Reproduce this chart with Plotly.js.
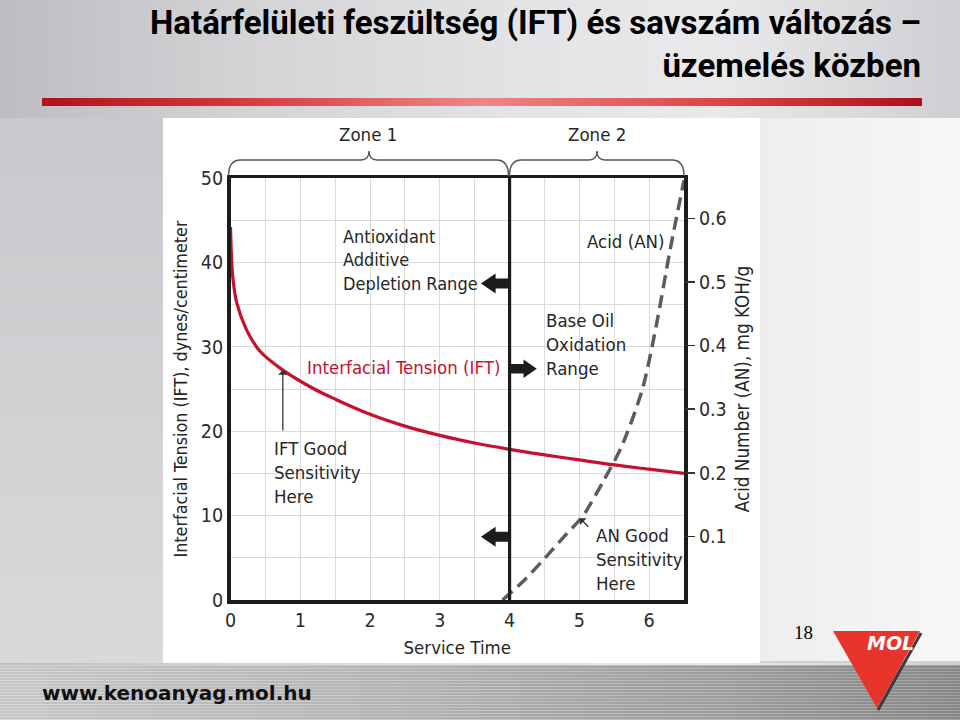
<!DOCTYPE html>
<html><head><meta charset="utf-8">
<script src="https://cdn.plot.ly/plotly-3.0.1.min.js"></script>
<style>
html,body{margin:0;padding:0;}
#wrap{position:relative;width:960px;height:720px;overflow:hidden;
 background:linear-gradient(to right,#bdbdc1 0%,#d3d3d6 25%,#e4e4e6 55%,#e9e9eb 75%,#cfcfd3 100%);}
#lpanel{position:absolute;left:0;top:118px;width:163px;height:545px;background:linear-gradient(to bottom,#c9c9cd,#d9d9db);}
#rpanel{position:absolute;left:760px;top:118px;width:200px;height:545px;background:linear-gradient(to right,#eeeeef,#f7f7f7);}
#panel{position:absolute;left:163px;top:118px;width:597px;height:545px;background:#fff;}
#rbar{position:absolute;left:42px;top:98px;width:880px;height:8px;background:linear-gradient(to right,#b3121a 0%,#d23236 20%,#ec8787 50%,#dc4a4a 75%,#b01018 100%);}
#fline{position:absolute;left:760px;top:661px;width:200px;height:2px;background:#d0d0d0;}
#foot{position:absolute;left:0;top:665px;width:960px;height:55px;
 background:repeating-linear-gradient(to bottom,rgba(255,255,255,0.18) 0px,rgba(255,255,255,0.18) 1px,rgba(0,0,0,0.05) 1px,rgba(0,0,0,0.05) 3px),linear-gradient(to right,#d0d0d0,#bdbdbd 40%,#a5a5a5 75%,#8e8e8e);}
#chart{position:absolute;left:0;top:0;width:960px;height:720px;}
</style></head>
<body><div id="wrap"><div id="lpanel"></div><div id="rpanel"></div><div id="panel"></div><div id="rbar"></div><div id="fline"></div><div id="foot"></div><div id="chart"></div></div>
<script>
// ---- data ----
const serviceTime = [0, 0.01, 0.03, 0.09, 0.23, 0.42, 0.74, 1.2, 1.5, 2.0, 2.5, 3.0, 3.5, 4.0, 4.5, 5.0, 5.5, 6.0, 6.5];
const iftValues   = [44.2, 41.5, 38.5, 35.2, 32.0, 29.5, 27.3, 25.0, 23.8, 22.0, 20.6, 19.5, 18.6, 17.85, 17.2, 16.6, 16.0, 15.5, 15.0];
const anTime      = [3.9, 4.2, 4.5, 4.8, 5.05, 5.35, 5.6, 5.9, 6.1, 6.3, 6.5];
const anValues    = [0.0, 0.03, 0.065, 0.102, 0.132, 0.188, 0.24, 0.33, 0.43, 0.55, 0.66];
const xTickVals   = [0, 1, 2, 3, 4, 5, 6];
const yTickVals   = [0, 10, 20, 30, 40, 50];
const y2TickVals  = [0.1, 0.2, 0.3, 0.4, 0.5, 0.6];
const y2TickText  = ['0.1', '0.2', '0.3', '0.4', '0.5', '0.6'];

const COND = '"DejaVu Sans Condensed", "DejaVu Sans", sans-serif';
const TITLEF = 'Roboto, "Liberation Sans", sans-serif';
const INK = '#262626';
const RED = '#c8102e';
const W = 960, H = 720;
const PX = p => p / W, PY = p => 1 - p / H;

// decorations
function brace(x0, x1, xm) {
  const yb = 176, yh = 160, yp = 151;
  return 'M' + PX(x0) + ',' + PY(yb) + ' Q' + PX(x0) + ',' + PY(yh) + ' ' + PX(x0 + 12) + ',' + PY(yh) +
    ' L' + PX(xm - 8) + ',' + PY(yh) + ' Q' + PX(xm) + ',' + PY(yh) + ' ' + PX(xm) + ',' + PY(yp) +
    ' Q' + PX(xm) + ',' + PY(yh) + ' ' + PX(xm + 8) + ',' + PY(yh) +
    ' L' + PX(x1 - 12) + ',' + PY(yh) + ' Q' + PX(x1) + ',' + PY(yh) + ' ' + PX(x1) + ',' + PY(yb);
}
function leftArrow(yc) {
  return 'M3.59,' + yc + ' L3.80,' + (yc + 1.18) + ' L3.80,' + (yc + 0.6) + ' L4.0,' + (yc + 0.6) +
    ' L4.0,' + (yc - 0.6) + ' L3.80,' + (yc - 0.6) + ' L3.80,' + (yc - 1.18) + ' Z';
}
function rightArrow(yc) {
  return 'M4.39,' + yc + ' L4.20,' + (yc + 1.1) + ' L4.20,' + (yc + 0.55) + ' L4.0,' + (yc + 0.55) +
    ' L4.0,' + (yc - 0.55) + ' L4.20,' + (yc - 0.55) + ' L4.20,' + (yc - 1.1) + ' Z';
}
const triPath = 'M' + PX(833) + ',' + PY(631) + ' L' + PX(920) + ',' + PY(631) + ' L' + PX(877) + ',' + PY(708) + ' Z';
const triShadow = 'M' + PX(921) + ',' + PY(633) + ' L' + PX(878) + ',' + PY(710);

const traces = [
  {x: serviceTime, y: iftValues, type: 'scatter', mode: 'lines', name: 'IFT',
   line: {color: RED, width: 3.2, shape: 'spline', smoothing: 1}, hoverinfo: 'skip'},
  {x: anTime, y: anValues, type: 'scatter', mode: 'lines', name: 'AN', yaxis: 'y2',
   line: {color: '#5c5c5c', width: 3.5, dash: '13px,7px', shape: 'spline', smoothing: 0.8}, hoverinfo: 'skip'}
];

const tickFont = {family: COND, size: 19.5, color: '#2b2b2b'};
const txtFont = {family: COND, size: 18.5, color: INK};

function ann(text, x, y, extra) {
  return Object.assign({text: text, x: x, y: y, xref: 'x', yref: 'y', showarrow: false,
    xanchor: 'left', yanchor: 'middle', align: 'left', font: txtFont}, extra || {});
}
function pann(text, px, py, font, extra) {
  return Object.assign({text: text, x: PX(px), y: PY(py), xref: 'paper', yref: 'paper', showarrow: false,
    xanchor: 'center', yanchor: 'middle', font: font}, extra || {});
}

const layout = {
  width: W, height: H, margin: {l: 0, r: 0, t: 0, b: 0},
  paper_bgcolor: 'rgba(0,0,0,0)', plot_bgcolor: '#ffffff', showlegend: false,
  title: {text: 'Határfelületi feszültség (IFT) és savszám változás –<br>üzemelés közben',
    xref: 'container', yref: 'container', x: 921 / W, xanchor: 'right', y: 1 - 34 / H, yanchor: 'top',
    font: {family: TITLEF, size: 33, color: '#000', weight: 'bold'}},
  xaxis: {domain: [230.5 / W, 684 / W], range: [0, 6.5], tickvals: xTickVals, ticks: '',
    showgrid: true, gridcolor: '#dadada', gridwidth: 1,
    minor: {dtick: 0.5, tick0: 0, showgrid: true, gridcolor: '#dadada', gridwidth: 1, ticks: ''},
    showline: true, mirror: true, linecolor: '#1c1c1c', linewidth: 3.5, zeroline: false,
    tickfont: tickFont, automargin: false,
    title: {text: 'Service Time', font: txtFont, standoff: 11}},
  yaxis: {domain: [120 / H, 542 / H], range: [0, 50], tickvals: yTickVals, ticks: '',
    showgrid: true, gridcolor: '#dadada', gridwidth: 1,
    minor: {dtick: 5, tick0: 0, showgrid: true, gridcolor: '#dadada', gridwidth: 1, ticks: ''},
    showline: true, mirror: true, linecolor: '#1c1c1c', linewidth: 3.5, zeroline: false,
    tickfont: tickFont, automargin: false,
    title: {text: 'Interfacial Tension (IFT), dynes/centimeter', font: {family: COND, size: 17.8, color: INK}, standoff: 9}},
  yaxis2: {overlaying: 'y', side: 'right', range: [0, 0.6635], tickvals: y2TickVals, ticktext: y2TickText,
    ticks: 'outside', ticklen: 10, tickwidth: 1.5, tickcolor: '#333', showgrid: false, zeroline: false,
    showline: false, tickfont: tickFont, automargin: false,
    title: {text: 'Acid Number (AN), mg KOH/g', font: {family: COND, size: 18.7, color: INK}, standoff: 10}},
  shapes: [
    {type: 'line', xref: 'x', yref: 'y', x0: 4, x1: 4, y0: 0, y1: 50, line: {color: '#1c1c1c', width: 3.2}},
    {type: 'path', xref: 'x', yref: 'y', path: leftArrow(37.5), fillcolor: '#1c1c1c', line: {width: 0}},
    {type: 'path', xref: 'x', yref: 'y', path: rightArrow(27.4), fillcolor: '#1c1c1c', line: {width: 0}},
    {type: 'path', xref: 'x', yref: 'y', path: leftArrow(7.5), fillcolor: '#1c1c1c', line: {width: 0}},
    {type: 'path', xref: 'paper', yref: 'paper', path: brace(228.5, 508.5, 369), line: {color: '#555', width: 1.4}},
    {type: 'path', xref: 'paper', yref: 'paper', path: brace(509.5, 684, 597), line: {color: '#555', width: 1.4}},
    {type: 'path', xref: 'paper', yref: 'paper', path: triShadow, line: {color: '#3c3c3c', width: 3}},
    {type: 'path', xref: 'paper', yref: 'paper', path: triPath, fillcolor: '#e8352c', line: {width: 0}}
  ],
  annotations: [
    ann('Antioxidant<br>Additive<br>Depletion Range', 1.584, 40.3, {font: {family: COND, size: 18, color: INK}}),
    ann('Acid (AN)', 5.08, 42.5),
    ann('Base Oil<br>Oxidation<br>Range', 4.493, 30.25),
    ann('Interfacial Tension (IFT)', 1.068, 27.6, {font: {family: COND, size: 18.5, color: RED}}),
    ann('IFT Good<br>Sensitivity<br>Here', 0.595, 15.05),
    ann('AN Good<br>Sensitivity<br>Here', 5.21, 4.74),
    {text: '', x: 0.75, y: 27.25, ax: 0.75, ay: 19.9, axref: 'x', ayref: 'y', xref: 'x', yref: 'y',
     showarrow: true, arrowhead: 1, arrowsize: 1.2, arrowwidth: 1.3, arrowcolor: '#333'},
    {text: '', x: 5.01, y: 9.68, ax: 5.15, ay: 8.5, axref: 'x', ayref: 'y', xref: 'x', yref: 'y',
     showarrow: true, arrowhead: 1, arrowsize: 1.2, arrowwidth: 1.3, arrowcolor: '#333'},
    pann('Zone 1', 368, 134, txtFont),
    pann('Zone 2', 597, 134, txtFont),
    pann('18', 803, 632, {family: '"Liberation Serif", "DejaVu Serif", serif', size: 19, color: '#000'}),
    pann('MOL', 890, 643, {family: '"DejaVu Sans", sans-serif', size: 19, color: '#ffffff', weight: 'bold', style: 'italic'}),
    pann('www.kenoanyag.mol.hu', 40, 693, {family: '"DejaVu Sans", sans-serif', size: 20, color: '#111', weight: 'bold'}, {xanchor: 'left'})
  ]
};

Plotly.newPlot('chart', traces, layout, {staticPlot: true, displayModeBar: false});
</script></body></html>
